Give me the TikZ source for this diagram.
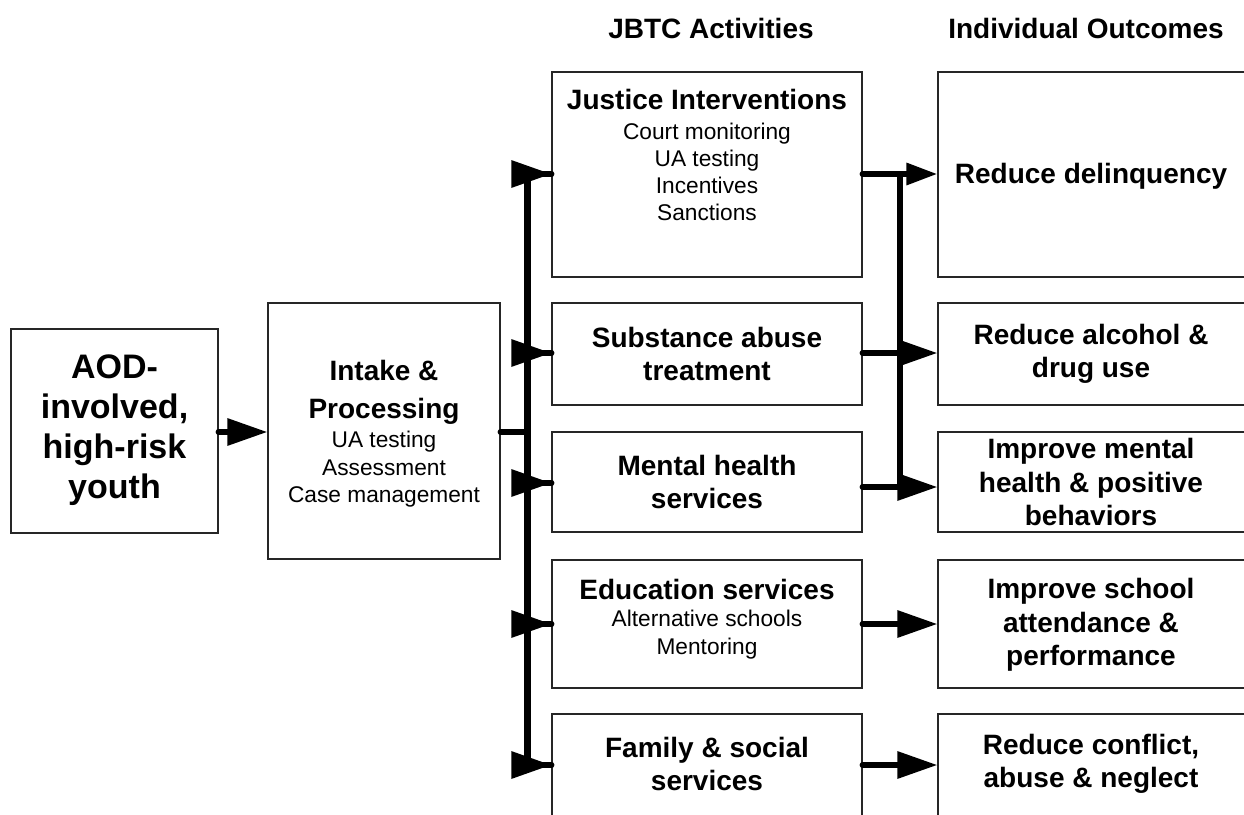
\documentclass[tikz,border=0pt]{standalone}
\usepackage{fontspec}
\setmainfont{Liberation Sans}
\usetikzlibrary{arrows.meta}
\newcommand\fAod{\fontsize{34}{40}\selectfont\bfseries}
\newcommand\fTtl{\fontsize{28}{33.5}\selectfont\bfseries}
\newcommand\fSub{\fontsize{22.7}{27.3}\selectfont}

\begin{document}
\begin{tikzpicture}[x=1pt,y=-1pt,
  box/.style={draw=black!85, line width=1.1pt, rectangle, inner sep=0pt},
  act/.style={box, minimum width=310pt},
  outc/.style={box, minimum width=320pt},
  ttl/.style={font=\fTtl, align=center, inner sep=0pt},
  sub/.style={font=\fSub, align=center, inner sep=0pt},
  link/.style={line width=6pt, line cap=round, line join=miter},
  bus/.style={line width=7pt},
  head/.style={-{Triangle[length=40pt,width=26pt]}},
  smallhead/.style={-{Triangle[length=31pt,width=21pt]}},
]
\useasboundingbox (0,0) rectangle (1244,814);
\clip (0,0) rectangle (1244,814);

% column headings
\node[ttl] (hAct) at (711,28) {JBTC Activities};
\node[ttl] (hOut) at (1086,28) {Individual Outcomes};

% boxes
\node[box, minimum width=207pt, minimum height=204pt] (aod) at (114.5,431) {};
\node[box, minimum width=232pt, minimum height=256pt] (intake) at (384,431) {};
\node[act, minimum height=205pt] (jus) at (707,174.5) {};
\node[act, minimum height=102pt] (sub) at (707,354) {};
\node[act, minimum height=100pt] (men) at (707,482) {};
\node[act, minimum height=128pt] (edu) at (707,624) {};
\node[act, minimum height=110pt] (fam) at (707,769) {};
\node[outc, minimum height=205pt] (o1) at (1098,174.5) {};
\node[outc, minimum height=102pt] (o2) at (1098,354) {};
\node[outc, minimum height=100pt] (o3) at (1098,482) {};
\node[outc, minimum height=128pt] (o4) at (1098,624) {};
\node[outc, minimum height=110pt] (o5) at (1098,769) {};

% box texts
\node[font=\fAod, align=center, inner sep=0pt] (aodT) at (114.5,430)
  {AOD-\\involved,\\high-risk\\youth};
\node[sub] (intakeT) at (384,433.5)
  {\fTtl Intake \&\\[11.4pt]\fTtl Processing\\[1.7pt]UA testing\\Assessment\\Case management};
\node[sub] (jusT) at (707,155)
  {\fTtl Justice Interventions\\[2.7pt]Court monitoring\\UA testing\\Incentives\\Sanctions};
\node[ttl] (subT) at (707,354) {Substance abuse\\treatment};
\node[ttl] (menT) at (707,482) {Mental health\\services};
\node[sub] (eduT) at (707,619)
  {\fTtl Education services\\Alternative schools\\Mentoring};
\node[ttl] (famT) at (707,764) {Family \& social\\services};
\node[ttl] (o1T) at (1091,176) {Reduce delinquency};
\node[ttl] (o2T) at (1091,354) {Reduce alcohol \&\\drug use};
\node[ttl] (o3T) at (1091,482) {Improve mental\\health \& positive\\behaviors};
\node[ttl] (o4T) at (1091,625) {Improve school\\attendance \&\\performance};
\node[ttl] (o5T) at (1091,764) {Reduce conflict,\\abuse \& neglect};

% bus points
\coordinate (J)  at (527,432);
\coordinate (L1) at (527,174);
\coordinate (L2) at (527,353);
\coordinate (L3) at (527,483);
\coordinate (L4) at (527,624);
\coordinate (L5) at (527,765);
\coordinate (R1) at (900,174);
\coordinate (R2) at (900,353);
\coordinate (R3) at (900,487);

% youth -> intake
\draw[link, head] (aod.east |- J) -- (intake.west |- J);
% intake -> activity bus
\draw[link] (intake.east |- J) -- (J);
\draw[bus] (L1) -- (L5);
\foreach \p/\b in {L1/jus, L2/sub, L3/men, L4/edu, L5/fam}{
  \draw[link, line cap=butt, head] (\p) -- (\b.west |- \p);
  \draw[link] (\p) -- (\b.west |- \p);
}
% activities -> outcomes
\draw[link] (jus.east |- R1) -- (R1) -- (R3);
\draw[link, smallhead] (R1) -- (o1.west |- R1);
\draw[link, head] (sub.east |- R2) -- (o2.west |- R2);
\draw[link, head] (men.east |- R3) -- (o3.west |- R3);
\draw[link, head] (edu.east |- L4) -- (o4.west |- L4);
\draw[link, head] (fam.east |- L5) -- (o5.west |- L5);
\end{tikzpicture}
\end{document}
